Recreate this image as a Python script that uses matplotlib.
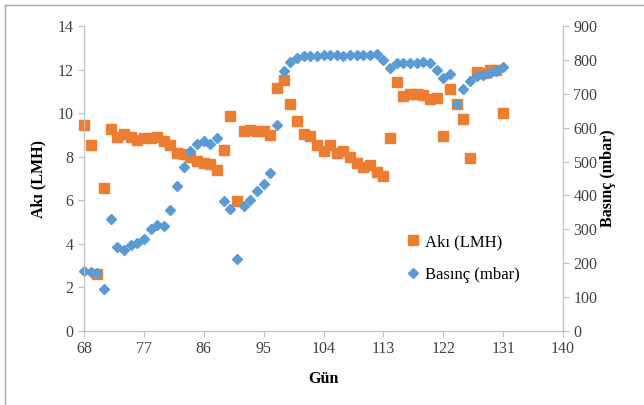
import matplotlib.pyplot as plt
import numpy as np
from matplotlib.lines import Line2D

# Days (x axis)
gun = np.arange(68, 132)

# Flux (LMH) - left axis
aki = [9.47, 8.56, 2.63, 6.55, 9.29, 8.91, 9.05, 8.91, 8.76, 8.84,
       8.84, 8.91, 8.72, 8.53, 8.19, 8.13, 7.98, 7.80, 7.71, 7.65,
       7.39, 8.29, 9.89, 5.98, 9.19, 9.24, 9.19, 9.19, 8.99, 11.15,
       11.54, 10.44, 9.66, 9.03, 8.95, 8.55, 8.27, 8.53, 8.16, 8.24,
       7.97, 7.70, 7.54, 7.62, 7.31, 7.11, 8.88, 11.43, 10.78, 10.86,
       10.86, 10.82, 10.65, 10.71, 8.94, 11.09, 10.44, 9.71, 7.92, 11.90,
       11.82, 11.98, 11.99, 10.00]

# Pressure (mbar) - right axis
basinc = [178, 175, 172, 124, 330, 249, 240, 253, 260, 271,
          301, 313, 310, 357, 428, 483, 530, 552, 562, 551,
          570, 384, 361, 212, 369, 387, 413, 434, 467, 609,
          766, 794, 807, 811, 812, 812, 813, 813, 814, 812,
          813, 813, 813, 814, 818, 799, 777, 792, 790, 791,
          792, 794, 792, 770, 748, 758, 670, 713, 738, 752,
          756, 762, 768, 778]

plt.rcParams['font.family'] = ['Liberation Serif', 'DejaVu Serif']

fig = plt.figure(figsize=(6.44, 4.05), dpi=100)
ax = fig.add_axes([84 / 644, 1 - 331 / 405, (563 - 84) / 644, (331 - 26) / 405])
ax2 = ax.twinx()

orange = '#ED7D31'
blue = '#5B9BD5'

l1, = ax.plot(gun, aki, linestyle='none', marker='s', markersize=6.5,
              color=orange, label='Akı (LMH)', clip_on=False)
l2, = ax2.plot(gun, basinc, linestyle='none', marker='D', markersize=5.2,
               color=blue, label='Basınç (mbar)', clip_on=False)

ax.set_xlim(68, 140)
ax.set_xticks(np.arange(68, 141, 9))
ax.set_ylim(0, 14)
ax.set_yticks(np.arange(0, 15, 2))
ax2.set_ylim(0, 900)
ax2.set_yticks(np.arange(0, 901, 100))

spine_col = '#bfbfbf'
for a in (ax, ax2):
    a.spines['top'].set_visible(False)
    for s in ('left', 'right', 'bottom'):
        a.spines[s].set_color(spine_col)
    a.tick_params(direction='out', length=4, color=spine_col,
                  labelcolor='#404040', labelsize=11.5)

ax.set_xlabel('Gün', fontweight='bold', fontsize=11.5, labelpad=10)
ax.set_ylabel('Akı (LMH)', fontweight='bold', fontsize=11.5, labelpad=8)
ax2.set_ylabel('Basınç (mbar)', fontweight='bold', fontsize=11.5, labelpad=2)

ax2.legend(handles=[l1, l2], loc='upper left', frameon=False,
           bbox_to_anchor=(393 / 644, 1 - 219 / 405),
           bbox_transform=fig.transFigure, fontsize=12,
           handlelength=0.6, handletextpad=0.4, labelspacing=1.0)

# thin frame around the chart area
fig.add_artist(Line2D([5 / 644, 5 / 644], [-0.1, 1 - 5 / 405],
                      transform=fig.transFigure, color='#a6a6a6', lw=1))
fig.add_artist(Line2D([5 / 644, 1.1], [1 - 5 / 405, 1 - 5 / 405],
                      transform=fig.transFigure, color='#a6a6a6', lw=1))

fig.savefig('out.png', dpi=100)
